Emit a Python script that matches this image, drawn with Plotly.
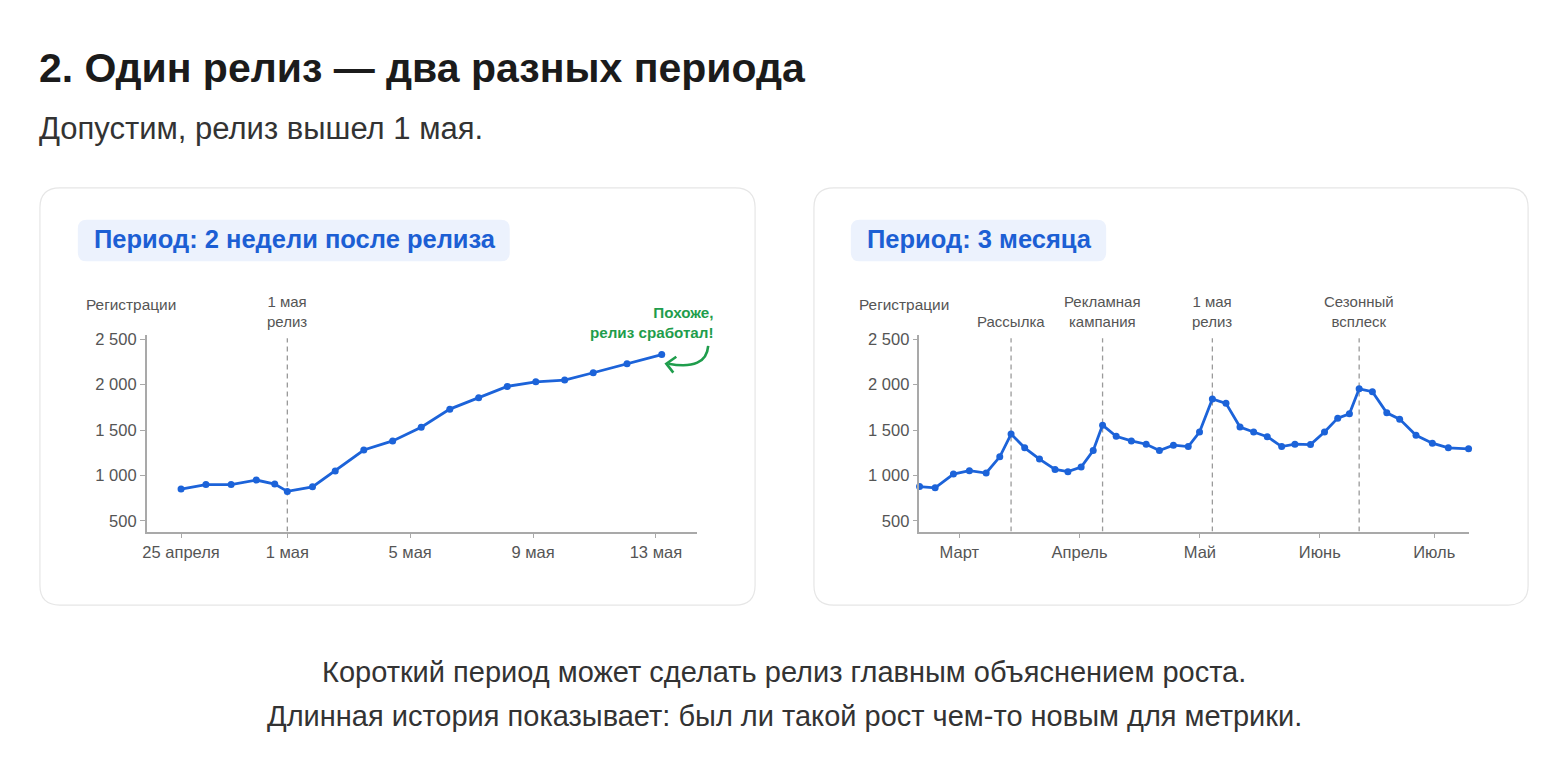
import plotly.graph_objects as go

W, H = 1560, 759
FONT = "Liberation Sans, Arial, Helvetica, sans-serif"

# ---------------- data ----------------
# Left chart: 2 weeks after release (position along axis, daily values)
left_x = [-3.46, -2.65, -1.83, -1.01, -0.41, 0.0, 0.82, 1.56, 2.49, 3.43,
          4.36, 5.29, 6.23, 7.16, 8.09, 9.03, 9.96, 11.06, 12.19]
left_y = [850, 900, 900, 950, 905, 825, 875, 1050, 1280, 1380,
          1530, 1730, 1855, 1980, 2030, 2050, 2130, 2230, 2330]
left_tick_vals = [-3.46, 0, 4, 8, 12]
left_tick_text = ["25 апреля", "1 мая", "5 мая", "9 мая", "13 мая"]
left_events_x = [0]
left_events_text = ["1 мая<br>релиз"]

# Right chart: 3 months
right_x = [-10.2, -6.2, -1.5, 2.6, 6.9, 10.4, 13.3, 16.8, 20.6, 24.6,
           27.9, 31.3, 34.4, 36.8, 40.3, 44.2, 48.0, 51.4, 55.0, 58.8,
           61.7, 65.0, 68.5, 72.1, 75.6, 79.1, 82.8, 86.2, 90.2, 93.8,
           97.2, 100.2, 102.7, 106.1, 109.8, 113.1, 117.3, 121.5, 125.6, 130.8]
right_y = [878, 864, 1016, 1053, 1027, 1205, 1456, 1304, 1180, 1067,
           1042, 1093, 1275, 1554, 1431, 1380, 1344, 1275, 1333, 1318,
           1478, 1842, 1794, 1533, 1478, 1427, 1318, 1344, 1340, 1478,
           1631, 1678, 1954, 1922, 1689, 1620, 1442, 1355, 1304, 1293]
right_tick_vals = [0, 30.9, 61.8, 92.6, 122.0]
right_tick_text = ["Март", "Апрель", "Май", "Июнь", "Июль"]
right_events_x = [13.3, 36.8, 65.0, 102.7]
right_events_text = ["Рассылка", "Рекламная<br>кампания", "1 мая<br>релиз", "Сезонный<br>всплеск"]

y_tick_vals = [500, 1000, 1500, 2000, 2500]
y_tick_text = ["500", "1 000", "1 500", "2 000", "2 500"]
Y_RANGE = [383, 2547]
EVENT_TOP = 2510

BLUE = "#1c63d9"
GREEN = "#1f9d4c"
AXIS = "#a9a9a9"
TXT = "#555555"

# page body margin compensation
OX, OY = -8, -8


def px(x):
    return (x + OX) / W


def py(y):
    return 1 - (y + OY) / H


def rrect(x0, y0, x1, y1, r):
    rx, ry = r, r
    pts = [
        f"M {px(x0 + rx)},{py(y0)}",
        f"L {px(x1 - rx)},{py(y0)}",
        f"Q {px(x1)},{py(y0)} {px(x1)},{py(y0 + ry)}",
        f"L {px(x1)},{py(y1 - ry)}",
        f"Q {px(x1)},{py(y1)} {px(x1 - rx)},{py(y1)}",
        f"L {px(x0 + rx)},{py(y1)}",
        f"Q {px(x0)},{py(y1)} {px(x0)},{py(y1 - ry)}",
        f"L {px(x0)},{py(y0 + ry)}",
        f"Q {px(x0)},{py(y0)} {px(x0 + rx)},{py(y0)}",
        "Z",
    ]
    return " ".join(pts)


fig = go.Figure()

fig.add_trace(go.Scatter(
    x=left_x, y=left_y, mode="lines+markers",
    line=dict(color=BLUE, width=2.8), marker=dict(color=BLUE, size=7),
    xaxis="x", yaxis="y", cliponaxis=False, showlegend=False,
))
fig.add_trace(go.Scatter(
    x=right_x, y=right_y, mode="lines+markers",
    line=dict(color=BLUE, width=2.8), marker=dict(color=BLUE, size=7),
    xaxis="x2", yaxis="y2", cliponaxis=False, showlegend=False,
))

common_axis = dict(
    showline=True, linecolor=AXIS, linewidth=1.5, showgrid=False, zeroline=False,
    ticks="outside", ticklen=5, tickcolor=AXIS, tickwidth=1,
    tickfont=dict(family=FONT, size=16.5, color=TXT),
)

fig.update_layout(
    width=W, height=H,
    margin=dict(l=0, r=0, t=0, b=0),
    paper_bgcolor="#ffffff", plot_bgcolor="rgba(0,0,0,0)",
    font=dict(family=FONT),
    xaxis=dict(domain=[px(143), px(694.5)], range=[-4.58, 13.33],
               tickvals=left_tick_vals, ticktext=left_tick_text, anchor="y", **common_axis),
    yaxis=dict(domain=[py(530), py(332)], range=Y_RANGE,
               tickvals=y_tick_vals, ticktext=y_tick_text, anchor="x", **common_axis),
    xaxis2=dict(domain=[px(917.7), px(1468.7)], range=[-10.25, 130.9],
                tickvals=right_tick_vals, ticktext=right_tick_text, anchor="y2", **common_axis),
    yaxis2=dict(domain=[py(530), py(332)], range=Y_RANGE,
                tickvals=y_tick_vals, ticktext=y_tick_text, anchor="x2", **common_axis),
)

shapes = []
# cards
for x0, x1 in [(36, 753), (812, 1528)]:
    shapes.append(dict(type="path", xref="paper", yref="paper", path=rrect(x0, 184, x1, 604, 20),
                       line=dict(color="#e6e6e6", width=1.2), fillcolor="#ffffff", layer="below"))
# badges
for x0, x1 in [(74, 507), (849, 1105)]:
    shapes.append(dict(type="path", xref="paper", yref="paper", path=rrect(x0, 216, x1, 258, 9),
                       line=dict(width=0), fillcolor="#ecf2fd", layer="below"))
# event lines
DASH = "5px,4px"
for ex in left_events_x:
    shapes.append(dict(type="line", xref="x", yref="y", x0=ex, x1=ex, y0=Y_RANGE[0], y1=EVENT_TOP,
                       line=dict(color="#9a9a9a", width=1.3, dash=DASH), layer="below"))
for ex in right_events_x:
    shapes.append(dict(type="line", xref="x2", yref="y2", x0=ex, x1=ex, y0=Y_RANGE[0], y1=EVENT_TOP,
                       line=dict(color="#9a9a9a", width=1.3, dash=DASH), layer="below"))
# curved arrow
shapes.append(dict(type="path", xref="paper", yref="paper",
                   path=f"M {px(706)},{py(343)} Q {px(704)},{py(368)} {px(666)},{py(361)}",
                   line=dict(color=GREEN, width=2.6)))
shapes.append(dict(type="path", xref="paper", yref="paper",
                   path=f"M {px(674)},{py(354)} L {px(664)},{py(361)} L {px(671)},{py(370)}",
                   line=dict(color=GREEN, width=2.6)))
fig.update_layout(shapes=shapes)

ann = []


def text(x, y, s, size, color, bold=False, xanchor="left", align="left"):
    ann.append(dict(xref="paper", yref="paper", x=px(x), y=py(y), text=(f"<b>{s}</b>" if bold else s),
                    showarrow=False, xanchor=xanchor, yanchor="middle", align=align,
                    font=dict(family=FONT, size=size, color=color)))


text(33, 63, "2. Один релиз — два разных периода", 41, "#1b1b1b", bold=True)
text(33, 124, "Допустим, релиз вышел 1 мая.", 31, "#333333")
text(88, 236, "Период: 2 недели после релиза", 25.5, "#1c5fd4", bold=True)
text(863, 236, "Период: 3 месяца", 25.5, "#1c5fd4", bold=True)
text(80, 301, "Регистрации", 15.4, TXT)
text(855, 301, "Регистрации", 15.4, TXT)
text(782, 671, "Короткий период может сделать релиз главным объяснением роста.", 29, "#333333",
     xanchor="center", align="center")
text(782, 716, "Длинная история показывает: был ли такой рост чем-то новым для метрики.", 29, "#333333",
     xanchor="center", align="center")
text(714, 320, "Похоже,<br>релиз сработал!", 15.2, GREEN, bold=True, xanchor="right", align="right")

for xr, exs, txts in [("x", left_events_x, left_events_text), ("x2", right_events_x, right_events_text)]:
    for ex, t in zip(exs, txts):
        ann.append(dict(xref=xr, yref="paper", x=ex, y=py(329), text=t, showarrow=False,
                        xanchor="center", yanchor="bottom", align="center",
                        font=dict(family=FONT, size=15, color=TXT)))

fig.update_layout(annotations=ann)

fig.write_html("out.html")
